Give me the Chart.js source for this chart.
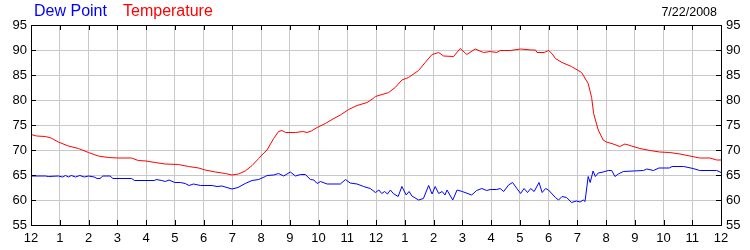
<!DOCTYPE html>
<html>
<head>
<meta charset="utf-8">
<script src="https://cdn.jsdelivr.net/npm/chart.js@4/dist/chart.umd.min.js"></script>
<style>
  body { margin: 0; background: #fff; }
  #wrap { position: relative; width: 750px; height: 250px; font-family: "Liberation Sans", Arial, sans-serif; }
  .legend { position: absolute; top: 2px; font-size: 16px; }
  #date { position: absolute; top: 5px; right: 33px; font-size: 12.5px; color: #000; }
</style>
</head>
<body>
<div id="wrap">
  <span class="legend" style="left:34px;color:#0000ff">Dew Point</span>
  <span class="legend" style="left:123px;color:#ff0000">Temperature</span>
  <span id="date">7/22/2008</span>
  <canvas id="chart" width="750" height="250"></canvas>
</div>
<script>
// hours after midnight
const tempHours = [0, 0.2, 0.5, 0.7, 0.95, 1.3, 1.65, 2.0, 2.34, 2.69, 3.0, 3.5, 3.73, 4.0, 4.32, 4.67, 5.13, 5.48, 5.83, 6.06, 6.41, 6.76, 6.99, 7.22, 7.45, 7.69, 7.92, 8.1, 8.21, 8.44, 8.61, 8.73, 8.85, 9.2, 9.45, 9.6, 9.75, 9.95, 10.24, 10.47, 10.76, 11.05, 11.34, 11.69, 11.9, 11.98, 12.21, 12.44, 12.67, 12.9, 13.13, 13.48, 13.71, 13.95, 14.18, 14.35, 14.7, 14.93, 15.16, 15.45, 15.74, 15.97, 16.2, 16.32, 16.67, 17.03, 17.4, 17.55, 17.6, 17.85, 18.0, 18.12, 18.24, 18.47, 18.8, 19.15, 19.38, 19.5, 19.57, 19.73, 19.9, 20.02, 20.25, 20.48, 20.66, 20.89, 21.18, 21.53, 21.87, 22.22, 22.57, 22.92, 23.26, 23.61, 23.85, 24];
const tempValues = [73.1, 72.8, 72.7, 72.4, 71.6, 70.8, 70.3, 69.5, 68.8, 68.5, 68.4, 68.4, 67.9, 67.8, 67.5, 67.2, 67.1, 66.7, 66.4, 66.0, 65.6, 65.3, 65.0, 65.2, 65.8, 66.9, 68.3, 69.4, 70.0, 72.3, 73.7, 73.9, 73.5, 73.5, 73.7, 73.5, 73.8, 74.5, 75.3, 76.1, 77.0, 78.1, 78.9, 79.5, 80.3, 80.7, 81.1, 81.5, 82.5, 84.0, 84.5, 85.9, 87.5, 89.1, 89.5, 88.8, 88.7, 90.3, 89.1, 90.2, 89.5, 89.7, 89.5, 89.9, 89.9, 90.2, 90.0, 90.0, 89.5, 89.5, 89.9, 89.3, 88.3, 87.5, 86.7, 85.5, 83.3, 80.5, 77.3, 74.0, 72.0, 71.6, 71.2, 70.7, 71.2, 70.8, 70.3, 69.9, 69.6, 69.5, 69.2, 68.8, 68.4, 68.4, 68.0, 68.0];

const dewHours = [0, 0.5, 0.6, 0.95, 1.1, 1.2, 1.3, 1.4, 1.55, 1.7, 1.85, 2.0, 2.2, 2.3, 2.4, 2.5, 2.75, 2.85, 3.5, 3.6, 4.3, 4.35, 4.55, 4.67, 4.8, 5.0, 5.2, 5.36, 5.5, 5.65, 5.9, 6.3, 6.47, 6.64, 6.99, 7.2, 7.45, 7.69, 7.92, 8.15, 8.21, 8.44, 8.61, 8.79, 9.02, 9.2, 9.37, 9.54, 9.72, 9.84, 9.95, 10.07, 10.3, 10.76, 10.94, 11.1, 11.34, 11.57, 11.8, 11.98, 12.1, 12.2, 12.3, 12.4, 12.5, 12.6, 12.77, 12.9, 13.05, 13.15, 13.25, 13.48, 13.65, 13.83, 13.95, 14.06, 14.18, 14.3, 14.4, 14.47, 14.67, 14.82, 15.0, 15.33, 15.5, 15.68, 15.85, 15.97, 16.2, 16.32, 16.44, 16.61, 16.75, 16.9, 17.03, 17.15, 17.27, 17.38, 17.5, 17.67, 17.78, 17.9, 18.0, 18.24, 18.35, 18.47, 18.63, 18.8, 18.97, 19.1, 19.21, 19.27, 19.38, 19.45, 19.55, 19.63, 19.73, 19.9, 20.08, 20.2, 20.31, 20.43, 20.6, 21.3, 21.42, 21.65, 21.84, 22.2, 22.3, 22.7, 23.03, 23.26, 23.85, 24];
const dewValues = [64.8, 64.8, 64.7, 64.8, 64.6, 64.9, 64.6, 64.9, 64.6, 64.9, 64.6, 64.8, 64.6, 64.3, 64.3, 64.8, 64.8, 64.3, 64.3, 63.9, 63.9, 64.1, 63.9, 63.7, 64.0, 63.5, 63.5, 63.3, 62.9, 63.2, 62.9, 62.9, 62.7, 62.8, 62.2, 62.5, 63.3, 63.9, 64.1, 64.7, 64.9, 65.0, 65.3, 64.8, 65.6, 64.8, 65.1, 65.1, 64.1, 64.0, 63.3, 63.7, 63.2, 63.2, 64.1, 63.4, 63.2, 62.7, 62.3, 61.5, 62.0, 61.3, 61.7, 61.2, 62.0, 61.3, 60.7, 62.7, 61.0, 61.7, 60.8, 60.0, 60.3, 62.9, 61.2, 62.7, 61.3, 61.7, 61.0, 62.0, 60.0, 62.0, 61.7, 61.0, 61.9, 62.3, 61.9, 62.1, 62.1, 62.3, 61.7, 63.0, 63.5, 62.3, 61.3, 62.3, 61.5, 62.3, 61.7, 63.5, 61.5, 62.3, 62.0, 60.5, 60.0, 60.7, 60.5, 59.5, 59.8, 59.6, 60.0, 59.7, 64.7, 63.5, 65.8, 64.7, 65.4, 65.6, 65.9, 65.9, 64.7, 65.2, 65.7, 65.9, 66.2, 65.9, 66.4, 66.4, 66.7, 66.7, 66.3, 65.9, 65.9, 65.5];

const hourLabels = ["12", "1", "2", "3", "4", "5", "6", "7", "8", "9", "10", "11", "12", "1", "2", "3", "4", "5", "6", "7", "8", "9", "10", "11", "12"];
const yMin = 55, yMax = 95, yStep = 5;

function toPoints(xs, ys) {
  return xs.map((h, i) => ({ x: h, y: ys[i] }));
}

// black frame plus short inward tick marks like the original
const framePlugin = {
  id: "frame",
  afterDraw(chart) {
    const { ctx, chartArea: a, scales } = chart;
    ctx.save();
    ctx.strokeStyle = "#000";
    ctx.lineWidth = 1;
    ctx.beginPath();
    for (let h = 0; h <= 24; h++) {
      const x = Math.round(scales.x.getPixelForValue(h)) + 0.5;
      ctx.moveTo(x, a.top);
      ctx.lineTo(x, a.top + 5);
      ctx.moveTo(x, a.bottom);
      ctx.lineTo(x, a.bottom - 5);
    }
    for (let v = yMin; v <= yMax; v += yStep) {
      const y = Math.round(scales.y.getPixelForValue(v)) + 0.5;
      ctx.moveTo(a.left, y);
      ctx.lineTo(a.left + 5, y);
      ctx.moveTo(a.right, y);
      ctx.lineTo(a.right - 5, y);
    }
    ctx.stroke();
    ctx.strokeRect(Math.round(a.left) + 0.5, Math.round(a.top) + 0.5, Math.round(a.right - a.left), Math.round(a.bottom - a.top));
    ctx.restore();
  },
};

const tickFont = { family: "'Liberation Sans', Arial, sans-serif", size: 13 };

const ctx = document.getElementById("chart").getContext("2d");
const weatherChart = new Chart(ctx, {
  type: "line",
  data: {
    datasets: [
      {
        label: "Dew Point",
        data: toPoints(dewHours, dewValues),
        borderColor: "#0000ff",
        borderWidth: 1,
        pointRadius: 0,
        tension: 0,
      },
      {
        label: "Temperature",
        data: toPoints(tempHours, tempValues),
        borderColor: "#ff0000",
        borderWidth: 1,
        pointRadius: 0,
        tension: 0,
      },
    ],
  },
  options: {
    responsive: false,
    animation: false,
    layout: { padding: { top: 25, left: 0, right: 0, bottom: 0 } },
    plugins: { legend: { display: false }, tooltip: { enabled: false } },
    scales: {
      x: {
        type: "linear",
        min: 0,
        max: 24,
        afterFit: (s) => { s.height = 25; },
        grid: { color: "#c8c8c8", drawTicks: false },
        border: { display: false },
        ticks: {
          stepSize: 1,
          autoSkip: false,
          maxRotation: 0,
          padding: 6,
          color: "#000",
          font: tickFont,
          callback: (v) => hourLabels[v],
        },
      },
      y: {
        position: "left",
        min: yMin,
        max: yMax,
        afterFit: (s) => { s.width = 31; },
        grid: { color: "#c8c8c8", drawTicks: false },
        border: { display: false },
        ticks: { stepSize: yStep, padding: 4, color: "#000", font: tickFont },
      },
      y2: {
        position: "right",
        min: yMin,
        max: yMax,
        afterFit: (s) => { s.width = 29; },
        grid: { display: false, drawTicks: false },
        border: { display: false },
        ticks: { stepSize: yStep, padding: 5, color: "#000", font: tickFont },
      },
    },
  },
  plugins: [framePlugin],
});
</script>
</body>
</html>
